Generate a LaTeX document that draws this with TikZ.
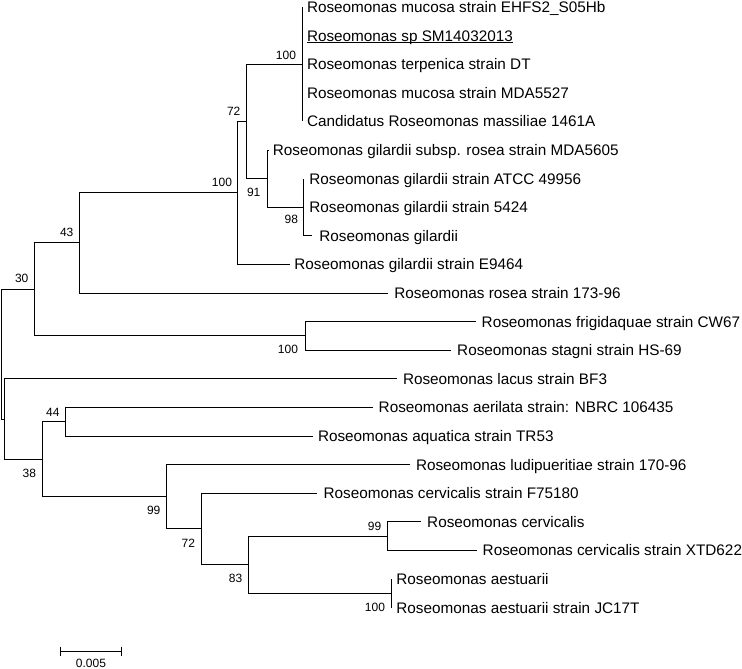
\documentclass[tikz,border=0pt]{standalone}
\usepackage{fontspec}
\setmainfont{Liberation Sans}
\begin{document}
\begin{tikzpicture}[x=1pt,y=-1pt,
  br/.style={line width=1pt, black},
  leaf/.style={anchor=west, inner sep=0pt, font=\fontsize{15.3}{16}\selectfont, text height=10.95pt, text depth=0pt},
  boot/.style={anchor=center, inner sep=0pt, font=\fontsize{12}{13}\selectfont, text height=8.6pt, text depth=0pt}]
\path[use as bounding box, fill=white] (0,0) rectangle (742,669);

% internal nodes
\coordinate (root) at (1.5,354.2);
\coordinate (n30) at (34,289.4);
\coordinate (n43) at (79.5,242.95);
\coordinate (n100) at (237.5,192.9);
\coordinate (n72) at (246,121.4);
\coordinate (nA) at (302,64.2);
\coordinate (n91) at (267.4,178.6);
\coordinate (n98) at (303,207.2);
\coordinate (n100b) at (305.3,335.9);
\coordinate (nX) at (4.3,419);
\coordinate (n38) at (42,459.25);
\coordinate (n44) at (65.7,421.7);
\coordinate (n99) at (166.7,496.8);
\coordinate (n72b) at (201,528.95);
\coordinate (n83) at (248.3,564.7);
\coordinate (n99b) at (387.5,536.1);
\coordinate (n100c) at (391,593.3);

% tips
\coordinate (p1) at (302,7);
\coordinate (p2) at (302,35.6);
\coordinate (p3) at (302,64.2);
\coordinate (p4) at (302,92.8);
\coordinate (p5) at (302,121.4);
\coordinate (p6) at (268.5,150);
\coordinate (p7) at (303,178.6);
\coordinate (p8) at (303,207.2);
\coordinate (p9) at (311.5,235.8);
\coordinate (p10) at (289.5,264.4);
\coordinate (p11) at (388.2,293);
\coordinate (p12) at (476,321.6);
\coordinate (p13) at (451,350.2);
\coordinate (p14) at (396.7,378.8);
\coordinate (p15) at (373,407.4);
\coordinate (p16) at (313,436);
\coordinate (p17) at (409.5,464.6);
\coordinate (p18) at (317,493.2);
\coordinate (p19) at (421,521.8);
\coordinate (p20) at (477.3,550.4);
\coordinate (p21) at (391,579);
\coordinate (p22) at (391,607.6);

% leaf labels
\node[leaf] (t1) at (306.8,7) {Roseomonas mucosa strain EHFS2\_S05Hb};
\node[leaf] (t2) at (306.8,35.6) {Roseomonas sp SM14032013};
\node[leaf] (t3) at (306.8,64.2) {Roseomonas terpenica strain DT};
\node[leaf] (t4) at (306.8,92.8) {Roseomonas mucosa strain MDA5527};
\node[leaf] (t5) at (306.8,121.4) {Candidatus Roseomonas massiliae 1461A};
\node[leaf] (t6) at (272.7,150) {Roseomonas gilardii subsp. rosea strain MDA5605};
\node[leaf] (t7) at (309.2,178.6) {Roseomonas gilardii strain ATCC 49956};
\node[leaf] (t8) at (309.2,207.2) {Roseomonas gilardii strain 5424};
\node[leaf] (t9) at (319.2,235.8) {Roseomonas gilardii};
\node[leaf] (t10) at (294.2,264.4) {Roseomonas gilardii strain E9464};
\node[leaf] (t11) at (394.2,293) {Roseomonas rosea strain 173-96};
\node[leaf] (t12) at (481.5,321.6) {Roseomonas frigidaquae strain CW67};
\node[leaf] (t13) at (457,350.2) {Roseomonas stagni strain HS-69};
\node[leaf] (t14) at (402.8,378.8) {Roseomonas lacus strain BF3};
\node[leaf] (t15) at (378.5,407.4) {Roseomonas aerilata strain: NBRC 106435};
\node[leaf] (t16) at (317.8,436) {Roseomonas aquatica strain TR53};
\node[leaf] (t17) at (415.8,464.6) {Roseomonas ludipueritiae strain 170-96};
\node[leaf] (t18) at (323.4,493.2) {Roseomonas cervicalis strain F75180};
\node[leaf] (t19) at (427,521.8) {Roseomonas cervicalis};
\node[leaf] (t20) at (482.5,550.4) {Roseomonas cervicalis strain XTD622};
\node[leaf] (t21) at (396.2,579) {Roseomonas aestuarii};
\node[leaf] (t22) at (396.2,607.6) {Roseomonas aestuarii strain JC17T};

\draw[line width=0.9pt] ([yshift=-1.6pt]t2.base west) -- ([yshift=-1.6pt]t2.base east);

% branches
\draw[br] (root) |- (n30);
\draw[br] (root) |- (nX);
\draw[br] (n30) |- (n43);
\draw[br] (n30) |- (n100b);
\draw[br] (n43) |- (n100);
\draw[br] (n43) |- (p11);
\draw[br] (n100) |- (n72);
\draw[br] (n100) |- (p10);
\draw[br] (n72) |- (nA);
\draw[br] (n72) |- (n91);
\draw[br] (nA) |- (p1);
\draw[br] (nA) |- (p2);
\draw[br] (nA) |- (p3);
\draw[br] (nA) |- (p4);
\draw[br] (nA) |- (p5);
\draw[br] (n91) |- (p6);
\draw[br] (n91) |- (n98);
\draw[br] (n98) |- (p7);
\draw[br] (n98) |- (p8);
\draw[br] (n98) |- (p9);
\draw[br] (n100b) |- (p12);
\draw[br] (n100b) |- (p13);
\draw[br] (nX) |- (p14);
\draw[br] (nX) |- (n38);
\draw[br] (n38) |- (n44);
\draw[br] (n38) |- (n99);
\draw[br] (n44) |- (p15);
\draw[br] (n44) |- (p16);
\draw[br] (n99) |- (p17);
\draw[br] (n99) |- (n72b);
\draw[br] (n72b) |- (p18);
\draw[br] (n72b) |- (n83);
\draw[br] (n83) |- (n99b);
\draw[br] (n83) |- (n100c);
\draw[br] (n99b) |- (p19);
\draw[br] (n99b) |- (p20);
\draw[br] (n100c) |- (p21);
\draw[br] (n100c) |- (p22);

% bootstrap values
\node[boot] (b1) at (286,55) {100};
\node[boot] (b2) at (233.7,110.7) {72};
\node[boot] (b3) at (222,182.3) {100};
\node[boot] (b4) at (253.7,191.7) {91};
\node[boot] (b5) at (291.3,219.3) {98};
\node[boot] (b6) at (66.7,231.7) {43};
\node[boot] (b7) at (21.7,278.3) {30};
\node[boot] (b8) at (288,349) {100};
\node[boot] (b9) at (52.8,411.7) {44};
\node[boot] (b10) at (29.3,472.7) {38};
\node[boot] (b11) at (153.7,510) {99};
\node[boot] (b12) at (188.3,542.7) {72};
\node[boot] (b13) at (235.5,578.3) {83};
\node[boot] (b14) at (374.5,525.7) {99};
\node[boot] (b15) at (375,607.3) {100};

% scale bar
\coordinate (sbL) at (60,651);
\coordinate (sbR) at (121,651);
\draw[br] (sbL) -- (sbR);
\draw[br] ([yshift=4.5pt]sbL) -- ([yshift=-4.5pt]sbL);
\draw[br] ([yshift=4.5pt]sbR) -- ([yshift=-4.5pt]sbR);
\node[boot] (sbt) at (91,663) {0.005};
\end{tikzpicture}
\end{document}
